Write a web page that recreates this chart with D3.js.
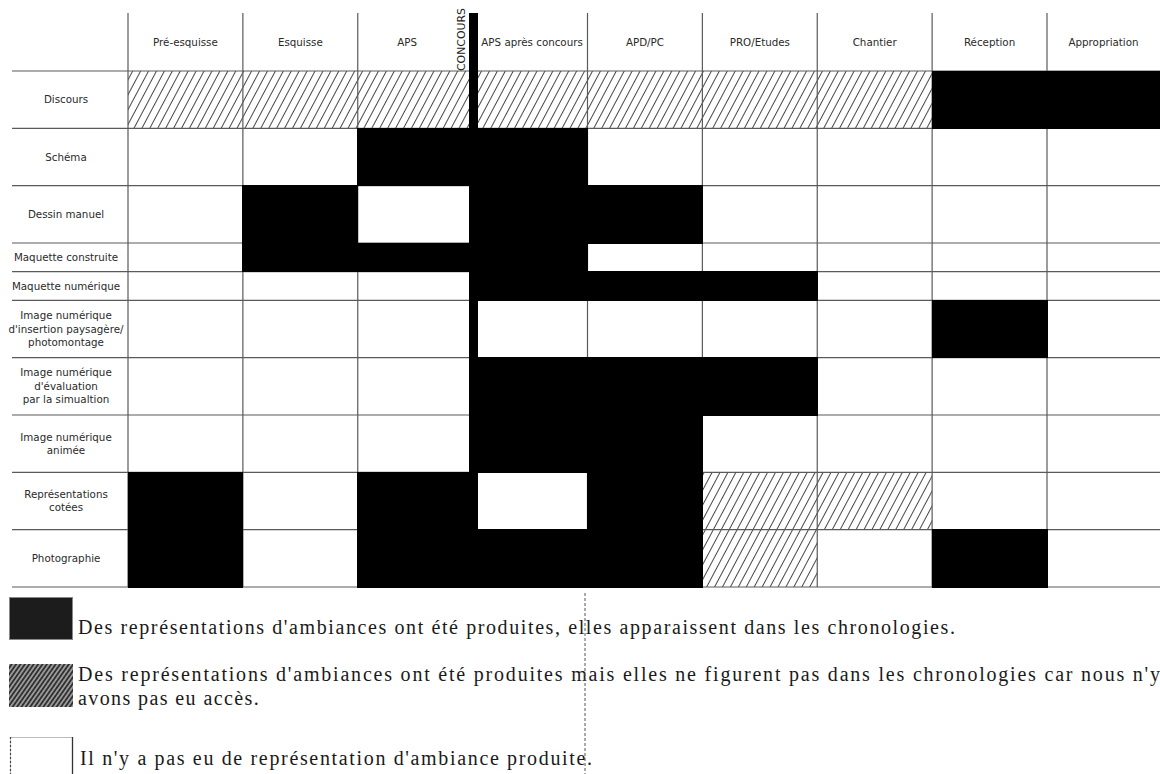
<!DOCTYPE html>
<html><head><meta charset="utf-8">
<script src="https://cdn.jsdelivr.net/npm/d3@7"></script>
<style>body{margin:0;background:#fff} svg{display:block}</style>
</head><body>
<script>
// ---------- DATA ----------
const phases = ["Pré-esquisse", "Esquisse", "APS", "APS après concours", "APD/PC", "PRO/Etudes", "Chantier", "Réception", "Appropriation"];
const rowLabels = [
  ["Discours"],
  ["Schéma"],
  ["Dessin manuel"],
  ["Maquette construite"],
  ["Maquette numérique"],
  ["Image numérique", "d'insertion paysagère/", "photomontage"],
  ["Image numérique", "d'évaluation", "par la simualtion"],
  ["Image numérique", "animée"],
  ["Représentations", "cotées"],
  ["Photographie"]
];
// 2 = produites et dans les chronologies (noir), 1 = produites mais non accessibles (hachuré), 0 = aucune
const statusDiscours      = [1,1,1,1,1,1,1,2,2];
const statusSchema        = [0,0,2,2,0,0,0,0,0];
const statusDessin        = [0,2,0,2,2,0,0,0,0];
const statusMaqConstruite = [0,2,2,2,0,0,0,0,0];
const statusMaqNumerique  = [0,0,0,2,2,2,0,0,0];
const statusInsertion     = [0,0,0,0,0,0,0,2,0];
const statusEvaluation    = [0,0,0,2,2,2,0,0,0];
const statusAnimee        = [0,0,0,2,2,0,0,0,0];
const statusCotees        = [2,0,2,0,2,1,1,0,0];
const statusPhoto         = [2,0,2,2,2,1,0,2,0];
const statusRows = [statusDiscours, statusSchema, statusDessin, statusMaqConstruite, statusMaqNumerique,
                    statusInsertion, statusEvaluation, statusAnimee, statusCotees, statusPhoto];
const rowSpan = [1,1,1,0.5,0.5,1,1,1,1,1];
const concoursLabel = "CONCOURS";
const concoursIndex = 3; // boundary before "APS après concours"
const legendTexts = [
  ["Des représentations d'ambiances ont été produites, elles apparaissent dans les chronologies."],
  ["Des représentations d'ambiances ont été produites mais elles ne figurent pas dans les chronologies car nous n'y", "avons pas eu accès."],
  ["Il n'y a pas eu de représentation d'ambiance produite."]
];

// ---------- LAYOUT ----------
const W = 1160, H = 774;
const svg = d3.select("body").append("svg").attr("width", W).attr("height", H);
const defs = svg.append("defs");

const hatch = defs.append("pattern").attr("id", "hatch")
  .attr("patternUnits", "userSpaceOnUse").attr("width", 7).attr("height", 10)
  .attr("patternTransform", "rotate(28)");
hatch.append("rect").attr("width", 7).attr("height", 10).attr("fill", "#fff");
hatch.append("line").attr("x1", 3.5).attr("y1", -1).attr("x2", 3.5).attr("y2", 11)
  .attr("stroke", "#333").attr("stroke-width", 0.9);

const hatch2 = defs.append("pattern").attr("id", "hatch2")
  .attr("patternUnits", "userSpaceOnUse").attr("width", 3.6).attr("height", 10)
  .attr("patternTransform", "rotate(35)");
hatch2.append("rect").attr("width", 3.6).attr("height", 10).attr("fill", "#9a9a9a");
hatch2.append("line").attr("x1", 1.8).attr("y1", -1).attr("x2", 1.8).attr("y2", 11)
  .attr("stroke", "#2a2a2a").attr("stroke-width", 1.7);

const x = d3.scaleLinear().domain([0, 8]).range([128, 1047]);
const colL = i => x(i);
const colR = i => Math.min(W, x(i + 1));
const starts = [0, ...d3.cumsum(rowSpan)];
const y = d3.scaleLinear().domain([0, d3.sum(rowSpan)]).range([71, 587]);
const yTop = 13, yBottom = y(d3.sum(rowSpan));

const cells = [];
statusRows.forEach((row, r) => row.forEach((s, c) => cells.push({r, c, s})));

// hatched cells
svg.append("g").selectAll("rect").data(cells.filter(d => d.s === 1)).join("rect")
  .attr("x", d => colL(d.c)).attr("y", d => y(starts[d.r]))
  .attr("width", d => colR(d.c) - colL(d.c)).attr("height", d => y(starts[d.r + 1]) - y(starts[d.r]))
  .attr("fill", "url(#hatch)");

// grid
const grid = svg.append("g").attr("stroke", "#5a5a5a").attr("stroke-width", 1.2);
grid.selectAll("line.h").data(starts).join("line").attr("class", "h")
  .attr("x1", 12).attr("x2", W).attr("y1", d => y(d)).attr("y2", d => y(d));
grid.selectAll("line.v").data(d3.range(0, 9).filter(i => i !== concoursIndex)).join("line").attr("class", "v")
  .attr("x1", d => x(d)).attr("x2", d => x(d)).attr("y1", yTop).attr("y2", yBottom);

// black cells
svg.append("g").attr("shape-rendering", "crispEdges").selectAll("rect").data(cells.filter(d => d.s === 2)).join("rect")
  .attr("x", d => colL(d.c) - 0.5).attr("y", d => y(starts[d.r]) - 0.5)
  .attr("width", d => colR(d.c) - colL(d.c) + 1).attr("height", d => y(starts[d.r + 1]) - y(starts[d.r]) + 1)
  .attr("fill", "#000");

// concours bar
const barL = x(concoursIndex) - 4, barW = 9.5;
svg.append("rect").attr("x", barL).attr("y", yTop).attr("width", barW).attr("height", yBottom - yTop)
  .attr("fill", "#000").attr("shape-rendering", "crispEdges");
svg.append("text").text(concoursLabel)
  .attr("transform", `translate(${x(concoursIndex) - 7.5},71) rotate(-90)`)
  .attr("font-family", "DejaVu Sans").attr("font-size", 10.5).attr("fill", "#222")
  .attr("textLength", 63).attr("lengthAdjust", "spacingAndGlyphs");

// header labels
svg.append("g").selectAll("text").data(phases).join("text")
  .attr("x", (d, i) => i === concoursIndex - 1 ? (colL(i) + barL - 12) / 2 : (colL(i) + colR(i)) / 2 + (i === concoursIndex ? 2 : 0))
  .attr("y", 46).attr("text-anchor", "middle")
  .attr("font-family", "DejaVu Sans").attr("font-size", 10.3).attr("fill", "#2a2a2a")
  .text(d => d);

// row labels
const lh = 13.5;
const rl = svg.append("g").attr("font-family", "DejaVu Sans").attr("font-size", 10.3).attr("fill", "#2a2a2a").attr("text-anchor", "middle");
rowLabels.forEach((lines, r) => {
  const cy = (y(starts[r]) + y(starts[r + 1])) / 2;
  const t = rl.append("text").attr("x", 66).attr("y", cy + 3.6 - (lines.length - 1) * lh / 2);
  lines.forEach((ln, k) => t.append("tspan").attr("x", 66).attr("dy", k === 0 ? 0 : lh).text(ln));
});

// legend
const lg = svg.append("g");
lg.append("rect").attr("x", 9.5).attr("y", 597.5).attr("width", 63).attr("height", 42)
  .attr("fill", "#1c1c1c").attr("stroke", "#888").attr("stroke-width", 1);
lg.append("rect").attr("x", 9).attr("y", 664).attr("width", 64).attr("height", 43)
  .attr("fill", "url(#hatch2)");
lg.append("rect").attr("x", 10.5).attr("y", 737.5).attr("width", 62).attr("height", 45)
  .attr("fill", "#fff").attr("stroke", "#bbb").attr("stroke-width", 1);
lg.append("line").attr("x1", 72.5).attr("x2", 72.5).attr("y1", 737).attr("y2", H)
  .attr("stroke", "#333").attr("stroke-width", 1.3);
lg.append("line").attr("x1", 10.5).attr("x2", 10.5).attr("y1", 737).attr("y2", H)
  .attr("stroke", "#444").attr("stroke-width", 1.2).attr("stroke-dasharray", "2,2");

const ltext = lg.append("g").attr("font-family", "Liberation Serif").attr("font-size", 20).attr("fill", "#1a1a1a");
const legendLines = [
  {t: legendTexts[0][0], x: 78, y: 634, len: 877},
  {t: legendTexts[1][0], x: 78, y: 681, len: 1082},
  {t: legendTexts[1][1], x: 78, y: 705, len: null},
  {t: legendTexts[2][0], x: 80, y: 765, len: 512}
];
legendLines.forEach(l => {
  const t = ltext.append("text").attr("x", l.x).attr("y", l.y).text(l.t);
  if (l.len) t.attr("textLength", l.len).attr("lengthAdjust", "spacing");
  else t.attr("letter-spacing", 1.4);
});

// dashed guide line
svg.append("line").attr("x1", 585).attr("x2", 585).attr("y1", 593).attr("y2", H)
  .attr("stroke", "#555").attr("stroke-width", 1).attr("stroke-dasharray", "3,2");
</script>
</body></html>
